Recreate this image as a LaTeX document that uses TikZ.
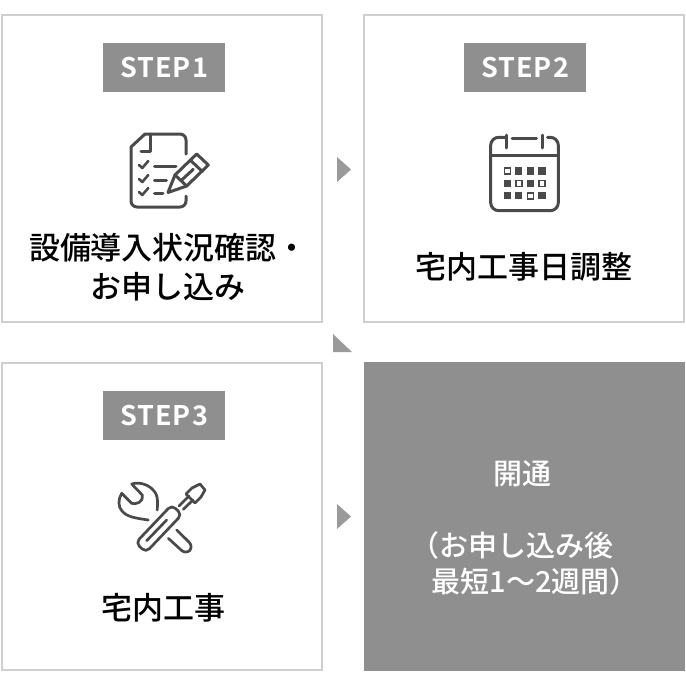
\documentclass[tikz,border=0pt]{standalone}
\usepackage{fontspec}
\setmainfont{Noto Sans CJK JP Medium}
\newfontfamily\stepfont[LetterSpace=4]{Noto Sans CJK JP Bold}
\definecolor{panelline}{HTML}{CFCFCF}
\definecolor{tagfill}{HTML}{8F8F90}
\definecolor{icondark}{HTML}{4A4A4A}
\tikzset{
  panel/.style={draw=panelline,line width=2pt,fill=white,minimum width=320pt,minimum height=307pt,inner sep=0pt},
  steptag/.style={fill=tagfill,text=white,minimum width=122pt,minimum height=49pt,inner sep=0pt,font=\stepfont\fontsize{27}{27}\selectfont},
  caption/.style={align=center,inner sep=0pt,font=\fontsize{31}{39}\selectfont},
  whitetext/.style={text=white,inner sep=0pt,font=\fontsize{29}{36}\selectfont},
  iconline/.style={draw=icondark,line width=3pt,line cap=round,line join=round},
  pointer/.style={fill=tagfill!90!white}
}
\begin{document}
\begin{tikzpicture}[x=1pt,y=-1pt]
\useasboundingbox (0,0) rectangle (686,686);

\node[panel] (panelA) at (162,168.5) {};
\node[panel] (panelB) at (524,168.5) {};
\node[panel] (panelC) at (162,516.5) {};
\node[panel,draw=none,fill=tagfill,minimum width=321pt,minimum height=309pt] (panelD) at (524.5,516) {};

\node[steptag] (tagA) at (164,67.5) {STEP1};
\node[steptag] (tagB) at (525,67.5) {STEP2};
\node[steptag] (tagC) at (164,415.5) {STEP3};

\node[caption] (textA) at (168.5,267) {設備導入状況確認・\\お申し込み};
\node[caption] (textB) at (524,267) {宅内工事日調整};
\node[caption] (textC) at (163.5,608) {宅内工事};
\node[whitetext] (textD) at (522.5,474) {開通};
\node[whitetext,align=left] (textE) at (524.5,563) {（お申し込み後\\\hspace*{21pt}最短1～2週間）};

% pointers
\fill[pointer] (337,157)--(337,182)--(351,169.5)--cycle;
\fill[pointer] (333,334)--(333,352)--(352,352)--cycle;
\fill[pointer] (337,504)--(337,529)--(351,516.5)--cycle;

% document
\draw[iconline,rounded corners=6pt] (186,154)--(186,134)--(145,134);
\draw[iconline] (145,134)--(131,147);
\draw[iconline,rounded corners=6pt] (131,147)--(131,207)--(186,207)--(186,196);
\draw[iconline] (150,134)--(150,151)--(141,151);
\foreach \y in {165,179,192}
{
   \draw[iconline,line width=2.6pt] (139,\y)--(142.3,\y+3)--(148.3,\y-4);
}
\draw[iconline] (154.5,166)--(176,166);
\draw[iconline] (154.5,180)--(166.5,180);
\draw[iconline] (154.5,193)--(163,193);
% pencil
\draw[iconline] (168,192.5)--(175,175)--(196.7,154)--(208.3,165)--(186.7,186)--cycle;
\draw[iconline] (175,175)--(186.7,186);
\draw[iconline] (190.7,160.5)--(202.3,171.5);
\draw[iconline] (181.7,180)--(193.3,169.3);

% calendar
\draw[iconline,rounded corners=8pt] (505,137.3)--(490.7,137.3)--(490.7,210.7)--(558.3,210.7)--(558.3,137.3)--(547.5,137.3);
\draw[iconline] (512,138)--(536.5,138);
\draw[iconline] (506,135)--(506,148);
\draw[iconline] (542.3,135)--(542.3,148);
\draw[iconline] (490.7,155)--(558.3,155);
\foreach \x/\y in {518.7/171,530.3/171,542/171,507.3/183.3,530.3/183.3,507.3/195.7,518.7/195.7,542/195.7}
{
   \fill[icondark] (\x-3.7,\y-3.7) rectangle (\x+3.7,\y+3.7);
}
\foreach \x/\y in {507.3/171,518.7/183.3,542/183.3,530.3/195.7}
{
   \draw[icondark,line width=1.6pt] (\x-3,\y-3) rectangle (\x+3,\y+3);
}

% wrench
\draw[iconline,line width=2.7pt] (157.3,510) .. controls (157.5,503) and (158,498) .. (156,494) .. controls (152,486) and (141,481) .. (131.7,484) -- (142.3,495) .. controls (143,499) and (141,501) .. (139,502.5) .. controls (136,504) and (133,504) .. (131.7,503.3) -- (121.7,493.3) .. controls (118,499) and (118,507) .. (122,511) .. controls (127,517) and (135,518) .. (148.3,520);
\draw[iconline,line width=2.7pt,rounded corners=6pt] (176.7,530)--(193.5,546.5)--(186,554.5)--(168.3,538.3);
% screwdriver
\draw[iconline,line width=2.7pt,rounded corners=5pt] (135.7,542.8)--(171.7,504.9)--(181.9,514.5)--(145.9,552.4)--cycle;
\draw[iconline,line width=2.7pt] (146.7,540.7)--(166.7,520);
\draw[iconline,line width=2.7pt] (179,506)--(189,496);
\draw[iconline,line width=2.7pt] (183.3,509.3)--(193,500);
\draw[iconline,line width=2.7pt] (186,494)--(192,488)--(200,484)--(205,490)--(201,497)--(195,503)--cycle;
\end{tikzpicture}
\end{document}
